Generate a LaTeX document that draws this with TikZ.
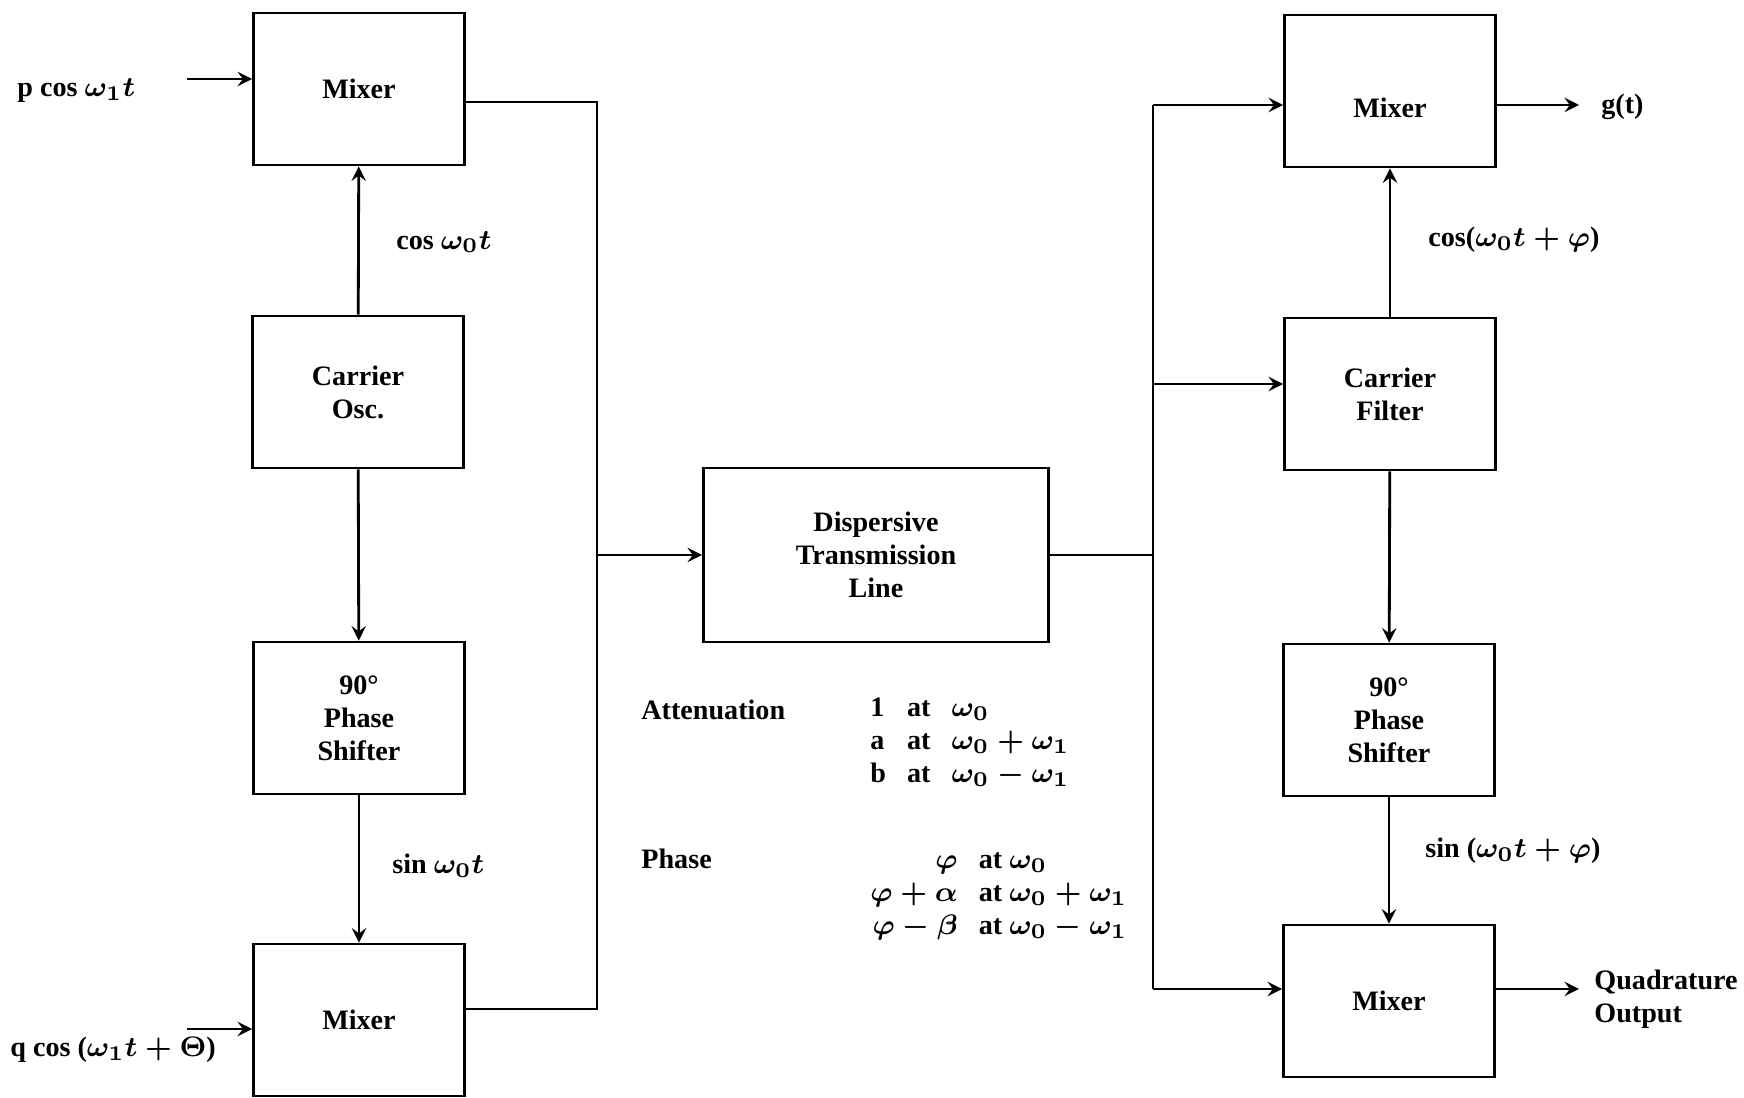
\documentclass[tikz,border=0pt]{standalone}
\usepackage{fontspec}
\setmainfont{Liberation Serif}
\usepackage{tikz}

\begin{document}
\begin{tikzpicture}[x=0.01cm,y=-0.01cm,>=stealth,
                every node/.style={font=\fontsize{8}{9.4}\selectfont\bfseries\boldmath},
                box/.style={draw,minimum width=2.11cm,minimum height=1.52cm,align=center,inner sep=0pt},
                lab/.style={anchor=west,inner sep=0pt,align=left},
                every path/.style={line width=0.8pt}]
                \useasboundingbox (0,0) rectangle (1744,1098);
                % transmitter
                \node[box] (1) at (359,89) {Mixer};
                \node[box] (2) at (358,392) {Carrier\\Osc.};
                \node[box] (3) at (359,718) {90\textdegree\\Phase\\Shifter};
                \node[box] (4) at (359,1020) {Mixer};
                \node[box,minimum width=3.45cm,minimum height=1.74cm] (5) at (876,555) {Dispersive\\Transmission\\Line};
                % receiver
                \node[box,label={[yshift=-4.8pt]center:Mixer}] (6) at (1390,91) {};
                \node[box] (7) at (1390,394) {Carrier\\Filter};
                \node[box] (8) at (1389,720) {90\textdegree\\Phase\\Shifter};
                \node[box] (9) at (1389,1001) {Mixer};
                % inputs
                \node[lab] (p) at (16,91) {p cos $\omega_1 t$};
                \node[lab] (q) at (9,1050) {q cos ($\omega_1 t + \Theta$)};
                \coordinate (pin) at (187,79);
                \coordinate (qin) at (187,1029);
                \draw[->] (pin) -- (pin -| 1.west);
                \draw[->] (qin) -- (qin -| 4.west);
                \draw[->] (2) -- (1);
                \draw[->] (2) -- (3);
                \draw[->] (3) -- (4);
                \node[lab] (c0) at (395,242) {cos $\omega_0 t$};
                \node[lab] (s0) at (391,866) {sin $\omega_0 t$};
                % left bus
                \coordinate (j1) at (597,102);
                \coordinate (j2) at (597,555);
                \coordinate (j3) at (597,1009);
                \draw (1.east |- j1) -- (j1) -- (j3) -- (4.east |- j3);
                \draw[->] (j2) -- (5.west |- j2);
                % right bus
                \coordinate (k1) at (1153,105);
                \coordinate (k2) at (1153,555);
                \coordinate (k3) at (1153,384);
                \coordinate (k4) at (1153,989);
                \draw (5.east |- k2) -- (k2);
                \draw (k1) -- (k4);
                \draw[->] (k1) -- (6.west |- k1);
                \draw[->] (k3) -- (7.west |- k3);
                \draw[->] (k4) -- (9.west |- k4);
                \draw[->] (7) -- (6);
                \draw[->] (7) -- (8);
                \draw[->] (8) -- (9);
                \node[lab] (c1) at (1427,240) {cos($\omega_0 t + \varphi$)};
                \node[lab] (s1) at (1424,851) {sin ($\omega_0 t + \varphi$)};
                % outputs
                \coordinate (g) at (1579,105);
                \coordinate (qo) at (1579,989);
                \draw[->] (6.east |- g) -- (g);
                \draw[->] (9.east |- qo) -- (qo);
                \node[lab] (gl) at (1600,107) {g(t)};
                \node[lab] (ql) at (1593,999) {Quadrature\\Output};
                % line characteristics
                \node[lab] (att) at (640,710) {Attenuation};
                \node[lab] (attv) at (869,743) {\begin{tabular}{@{}l@{\hspace{6pt}}l@{\hspace{6pt}}l@{}}
                    1 & at & $\omega_0$\\
                    a & at & $\omega_0 + \omega_1$\\
                    b & at & $\omega_0 - \omega_1$
                \end{tabular}};
                \node[lab] (ph) at (640,859) {Phase};
                \node[lab] (phv) at (869,895) {\begin{tabular}{@{}r@{\hspace{6pt}}l@{}}
                    $\varphi$ & at $\omega_0$\\
                    $\varphi + \alpha$ & at $\omega_0 + \omega_1$\\
                    $\varphi - \beta$ & at $\omega_0 - \omega_1$
                \end{tabular}};
            \end{tikzpicture}
\end{document}
